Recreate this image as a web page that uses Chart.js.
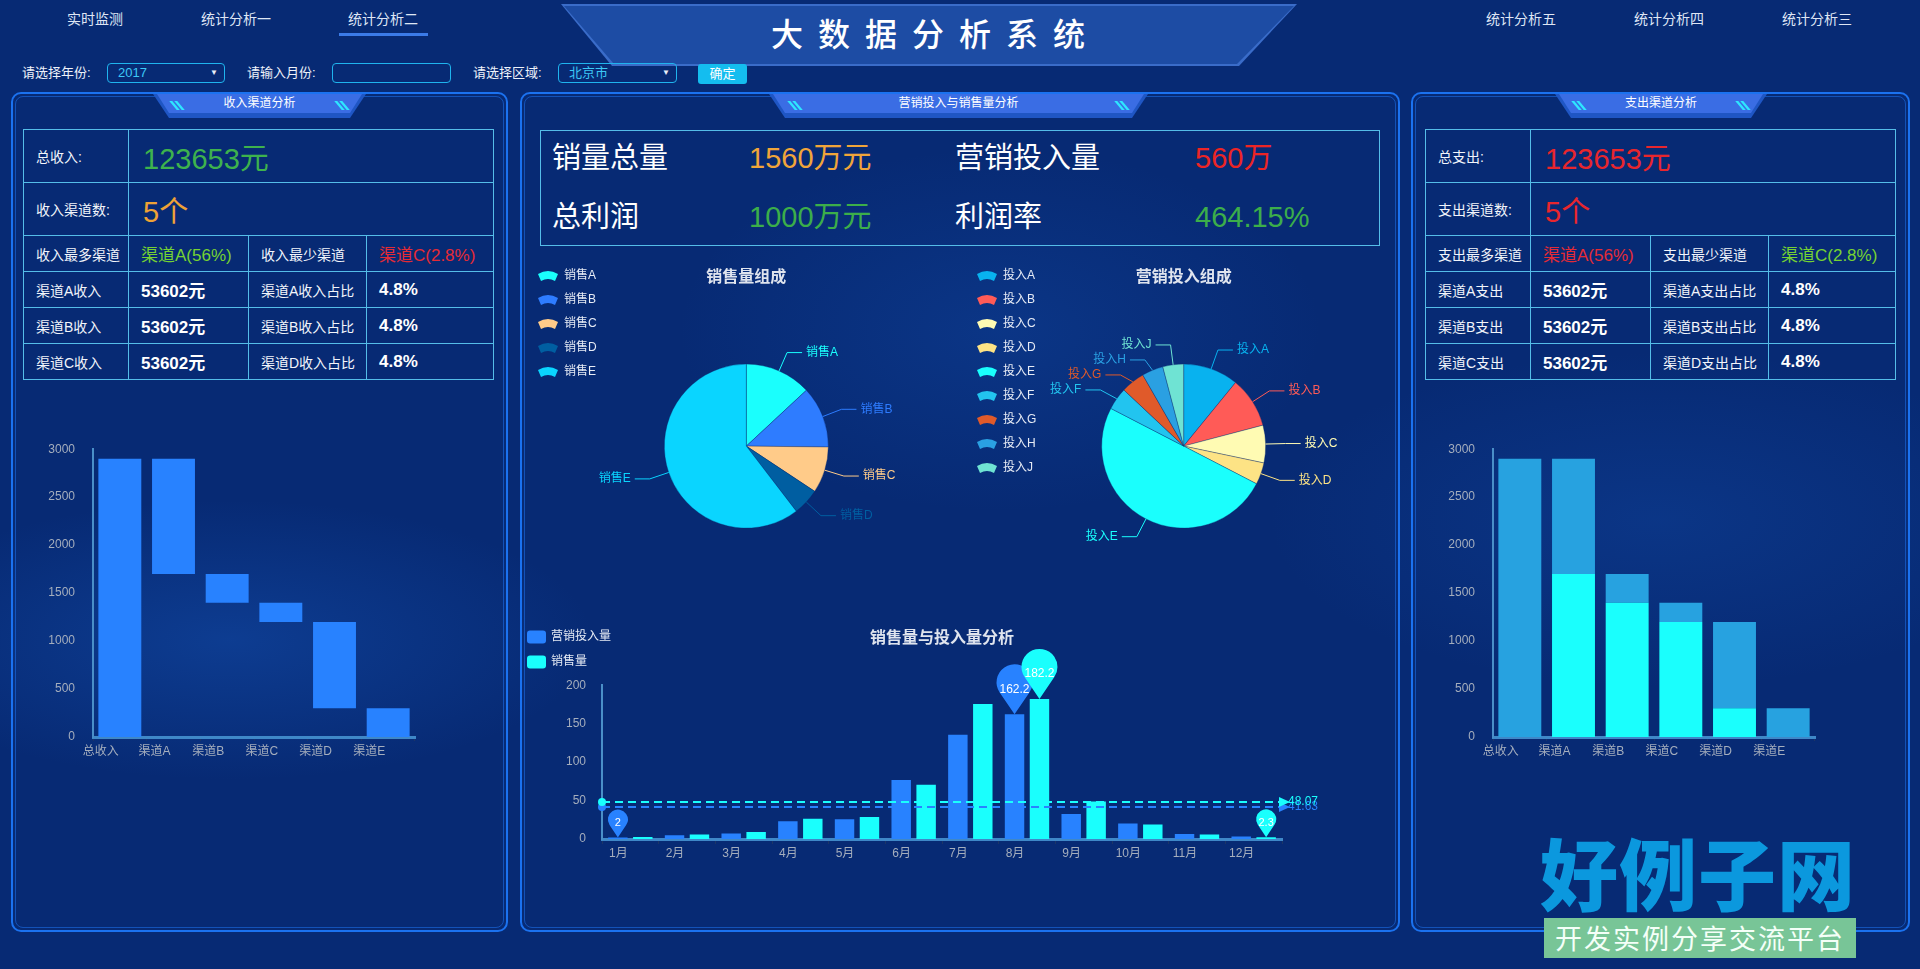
<!DOCTYPE html>
<html lang="zh">
<head>
<meta charset="utf-8">
<title>大数据分析系统</title>
<script src="https://cdn.jsdelivr.net/npm/chart.js@4.4.1/dist/chart.umd.min.js"></script>
<style>
  * { box-sizing: border-box; }
  body {
    margin: 0; width: 1920px; height: 969px; overflow: hidden; position: relative; color: #fff;
    font-family: "Liberation Sans", "Noto Sans CJK SC", sans-serif;
    background:
      radial-gradient(ellipse 520px 200px at 230px 640px, rgba(25,95,200,0.35), transparent 70%),
      radial-gradient(ellipse 560px 240px at 1660px 520px, rgba(25,95,200,0.22), transparent 70%),
      radial-gradient(ellipse 460px 260px at 1000px 330px, rgba(25,95,200,0.22), transparent 70%),
      #072a74;
  }
  .nav { position: absolute; top: 10px; font-size: 14px; line-height: 18px; color: #dfe6f4; transform: translateX(-50%); white-space: nowrap; }
  .nav-line { position: absolute; left: 339px; top: 33px; width: 89px; height: 3px; background: #3b7be8; }

  .banner { position: absolute; left: 561px; top: 4px; width: 736px; height: 62px; background: #3a6cc9;
    clip-path: polygon(0 0, 100% 0, calc(100% - 58px) 100%, 51px 100%); }
  .banner::after { content: ""; position: absolute; inset: 2px 3px; background: #1d4ca4;
    clip-path: polygon(0 0, 100% 0, calc(100% - 57px) 100%, 50px 100%); }
  .title { position: absolute; left: 928px; top: 12px; transform: translateX(-50%); font-size: 32px; line-height: 40px;
    letter-spacing: 15px; text-indent: 15px; font-family: "Noto Sans CJK SC", sans-serif; font-weight: 500; white-space: nowrap; }

  .flabel { position: absolute; top: 63px; font-size: 13px; line-height: 20px; color: #eef2fa; white-space: nowrap; }
  .fbox { position: absolute; top: 63px; height: 20px; border: 1.5px solid #1fb4ee; border-radius: 4px;
    font-size: 13px; line-height: 17px; color: #3cc8f6; padding-left: 10px; }
  .fbox i { position: absolute; right: 6px; top: 0; font-style: normal; font-size: 8px; color: #e8eef8; }
  .fbtn { position: absolute; left: 698px; top: 64px; width: 49px; height: 20px; background: #14bdef; border-radius: 3px;
    font-size: 13px; line-height: 20px; text-align: center; }

  .panel { position: absolute; top: 92px; height: 840px; border: 2px solid #1b72f0; border-radius: 10px; }
  .panel::after { content: ""; position: absolute; inset: 2px; border: 1px solid rgba(30,115,240,0.55); border-radius: 8px; }

  .tab { position: absolute; top: 94px; height: 24px; }
  .tab .base { position: absolute; inset: 0; background: #1f56c4;
    clip-path: polygon(0 0, 100% 0, calc(100% - 16px) 100%, 16px 100%); }
  .tab .face { position: absolute; left: 4px; right: 4px; top: 0; height: 19px; background: #3a6de4;
    clip-path: polygon(0 0, 100% 0, calc(100% - 12px) 100%, 12px 100%); }
  .tab .acc { position: absolute; top: 7px; width: 3px; height: 9px; background: #2ee6ff; transform: skewX(40deg); }
  .tab span { position: absolute; left: 0; right: 0; top: 1px; text-align: center; font-size: 12px; line-height: 16px; }

  table.info { position: absolute; top: 129px; border-collapse: collapse; table-layout: fixed; width: 470px; }
  table.info td { border: 1px solid #55bde8; padding: 0 0 0 12px; font-size: 14px; white-space: nowrap; color: #f2f5fb; }
  table.info tr.big { height: 53px; }
  table.info tr.sm { height: 36px; }
  table.info td.big-num { font-size: 29px; padding-left: 14px; }
  table.info td.mid-num { font-size: 17px; }
  table.info td.bold { font-weight: bold; font-size: 17px; color: #fff; }

  .stats { position: absolute; left: 540px; top: 130px; width: 840px; height: 116px; border: 1px solid #55bde8; }
  .stat { position: absolute; font-size: 29px; line-height: 34px; white-space: nowrap; }

  canvas { position: absolute; }

  .logo { position: absolute; left: 1540px; top: 826px; font-size: 78px; line-height: 90px; font-weight: 900;
    color: #0b98de; letter-spacing: 1px; font-family: "Noto Sans CJK SC", sans-serif; white-space: nowrap; }
  .slogan { position: absolute; left: 1544px; top: 918px; width: 312px; height: 40px; background: #78c597;
    font-size: 27px; line-height: 40px; text-align: center; letter-spacing: 2px; color: #f4fff8;
    font-family: "Noto Sans CJK SC", sans-serif; white-space: nowrap; }
</style>
</head>
<body>

<div class="nav" style="left:95px">实时监测</div>
<div class="nav" style="left:236px">统计分析一</div>
<div class="nav" style="left:383px">统计分析二</div>
<div class="nav-line"></div>
<div class="nav" style="left:1521px">统计分析五</div>
<div class="nav" style="left:1669px">统计分析四</div>
<div class="nav" style="left:1817px">统计分析三</div>

<div class="banner"></div>
<div class="title">大数据分析系统</div>

<div class="flabel" style="left:22px">请选择年份:</div>
<div class="fbox" style="left:107px;width:118px">2017<i>▼</i></div>
<div class="flabel" style="left:247px">请输入月份:</div>
<div class="fbox" style="left:332px;width:119px"></div>
<div class="flabel" style="left:473px">请选择区域:</div>
<div class="fbox" style="left:558px;width:119px">北京市<i>▼</i></div>
<div class="fbtn">确定</div>

<div class="panel" style="left:11px;width:497px"></div>
<div class="panel" style="left:520px;width:880px"></div>
<div class="panel" style="left:1411px;width:499px"></div>

<div class="tab" style="left:153px;width:213px"><div class="base"></div><div class="face"></div>
  <div class="acc" style="left:20px"></div><div class="acc" style="left:25px"></div>
  <div class="acc" style="right:25px"></div><div class="acc" style="right:20px"></div><span>收入渠道分析</span></div>
<div class="tab" style="left:769px;width:379px"><div class="base"></div><div class="face"></div>
  <div class="acc" style="left:22px"></div><div class="acc" style="left:27px"></div>
  <div class="acc" style="right:27px"></div><div class="acc" style="right:22px"></div><span>营销投入与销售量分析</span></div>
<div class="tab" style="left:1555px;width:212px"><div class="base"></div><div class="face"></div>
  <div class="acc" style="left:20px"></div><div class="acc" style="left:25px"></div>
  <div class="acc" style="right:25px"></div><div class="acc" style="right:20px"></div><span>支出渠道分析</span></div>

<table class="info" style="left:23px">
  <colgroup><col style="width:105px"><col style="width:120px"><col style="width:118px"><col style="width:127px"></colgroup>
  <tr class="big"><td>总收入:</td><td colspan="3" class="big-num" style="color:#3eb24d">123653元</td></tr>
  <tr class="big"><td>收入渠道数:</td><td colspan="3" class="big-num" style="color:#eea236">5个</td></tr>
  <tr class="sm"><td>收入最多渠道</td><td class="mid-num" style="color:#76d232">渠道A(56%)</td><td>收入最少渠道</td><td class="mid-num" style="color:#e52b35">渠道C(2.8%)</td></tr>
  <tr class="sm"><td>渠道A收入</td><td class="bold">53602元</td><td>渠道A收入占比</td><td class="bold">4.8%</td></tr>
  <tr class="sm"><td>渠道B收入</td><td class="bold">53602元</td><td>渠道B收入占比</td><td class="bold">4.8%</td></tr>
  <tr class="sm"><td>渠道C收入</td><td class="bold">53602元</td><td>渠道D收入占比</td><td class="bold">4.8%</td></tr>
</table>

<table class="info" style="left:1425px">
  <colgroup><col style="width:105px"><col style="width:120px"><col style="width:118px"><col style="width:127px"></colgroup>
  <tr class="big"><td>总支出:</td><td colspan="3" class="big-num" style="color:#e8262d">123653元</td></tr>
  <tr class="big"><td>支出渠道数:</td><td colspan="3" class="big-num" style="color:#e8262d">5个</td></tr>
  <tr class="sm"><td>支出最多渠道</td><td class="mid-num" style="color:#e52b35">渠道A(56%)</td><td>支出最少渠道</td><td class="mid-num" style="color:#76d232">渠道C(2.8%)</td></tr>
  <tr class="sm"><td>渠道A支出</td><td class="bold">53602元</td><td>渠道A支出占比</td><td class="bold">4.8%</td></tr>
  <tr class="sm"><td>渠道B支出</td><td class="bold">53602元</td><td>渠道B支出占比</td><td class="bold">4.8%</td></tr>
  <tr class="sm"><td>渠道C支出</td><td class="bold">53602元</td><td>渠道D支出占比</td><td class="bold">4.8%</td></tr>
</table>

<div class="stats"></div>
<div class="stat" style="left:552px;top:141px">销量总量</div>
<div class="stat" style="left:749px;top:141px;color:#f0a53a">1560万元</div>
<div class="stat" style="left:955px;top:141px">营销投入量</div>
<div class="stat" style="left:1195px;top:141px;color:#ec2525">560万</div>
<div class="stat" style="left:552px;top:200px">总利润</div>
<div class="stat" style="left:749px;top:200px;color:#3cae4a">1000万元</div>
<div class="stat" style="left:955px;top:200px">利润率</div>
<div class="stat" style="left:1195px;top:200px;color:#3cae4a">464.15%</div>

<canvas id="flowLeft" width="470" height="338" style="left:20px;top:432px"></canvas>
<canvas id="salePie" width="440" height="337" style="left:526px;top:258px"></canvas>
<canvas id="investPie" width="435" height="337" style="left:965px;top:258px"></canvas>
<canvas id="monthBar" width="800" height="260" style="left:522px;top:615px"></canvas>
<canvas id="flowRight" width="470" height="338" style="left:1420px;top:432px"></canvas>

<div class="logo">好例子网</div>
<div class="slogan">开发实例分享交流平台</div>

<script>
// ---- data ----
const flowLabels = ["总收入", "渠道A", "渠道B", "渠道C", "渠道D", "渠道E"];
const flowBase = [0, 1700, 1400, 1200, 300, 0];
const flowAmount = [2900, 1200, 300, 200, 900, 300];
const flowMax = 3000;
const flowStep = 500;

const saleNames = ["销售A", "销售B", "销售C", "销售D", "销售E"];
const saleValues = [335, 310, 234, 135, 1548];
const saleColors = ["#1afffd", "#2e7cff", "#ffcb89", "#005ea1", "#0ad5ff"];

const investNames = ["投入A", "投入B", "投入C", "投入D", "投入E", "投入F", "投入G", "投入H", "投入J"];
const investValues = [10.9, 10.0, 7.4, 4.3, 50.0, 4.4, 4.7, 4.2, 4.1];
const investColors = ["#08b2ef", "#ff5b57", "#fffbb3", "#fde385", "#1afffd", "#22c4ef", "#e05a2a", "#2aa0e2", "#6fe3d3"];

const months = ["1月", "2月", "3月", "4月", "5月", "6月", "7月", "8月", "9月", "10月", "11月", "12月"];
const monthInvest = [2.0, 4.9, 7.0, 23.2, 25.6, 76.7, 135.6, 162.2, 32.6, 20.0, 6.4, 3.3];
const monthSales = [2.6, 5.9, 9.0, 26.4, 28.7, 70.7, 175.6, 182.2, 48.7, 18.8, 6.0, 2.3];
const monthMax = 200;
const monthStep = 50;

const FONT = '"Liberation Sans", "Noto Sans CJK SC", sans-serif';
Chart.defaults.font.family = FONT;
Chart.defaults.font.size = 12;
Chart.defaults.color = "#a5aebd";

const TICK = "#a5aebd";
const AXIS = "#3f88c8";

// legend icon: small fan shape
function fanIcon(color) {
    const c = document.createElement("canvas");
    c.width = 22;
    c.height = 12;
    const g = c.getContext("2d");
    g.fillStyle = color;
    g.beginPath();
    g.moveTo(1, 4);
    g.quadraticCurveTo(11, -2, 21, 4);
    g.lineTo(18, 11);
    g.quadraticCurveTo(11, 7, 4, 11);
    g.closePath();
    g.fill();
    return c;
}

// labels outside the slices with leader lines
const outLabels = {
    id: "outLabels",
    afterDatasetsDraw(chart) {
        const ctx = chart.ctx;
        const ds = chart.data.datasets[0];
        const items = chart.getDatasetMeta(0).data.map((arc, i) => {
            const p = arc.getProps(["x", "y", "startAngle", "endAngle", "outerRadius"], true);
            const mid = (p.startAngle + p.endAngle) / 2;
            const r = p.outerRadius;
            return {
                i,
                ex: p.x + Math.cos(mid) * r,
                ey: p.y + Math.sin(mid) * r,
                bx: p.x + Math.cos(mid) * (r + 20),
                by: p.y + Math.sin(mid) * (r + 20),
                right: Math.cos(mid) >= 0
            };
        });
        items.forEach(o => o.ly = o.by);
        [true, false].forEach(side => {
            const s = items.filter(o => o.right === side).sort((a, b) => a.by - b.by);
            for (let k = 1; k < s.length; k++) {
                if (s[k].ly < s[k - 1].ly + 15) s[k].ly = s[k - 1].ly + 15;
            }
        });
        ctx.save();
        ctx.font = "12px " + FONT;
        ctx.textBaseline = "middle";
        ctx.lineWidth = 1;
        items.forEach(o => {
            const color = ds.backgroundColor[o.i];
            const x2 = o.right ? o.bx + 15 : o.bx - 15;
            ctx.strokeStyle = color;
            ctx.beginPath();
            ctx.moveTo(o.ex, o.ey);
            ctx.lineTo(o.bx, o.ly);
            ctx.lineTo(x2, o.ly);
            ctx.stroke();
            ctx.fillStyle = color;
            ctx.textAlign = o.right ? "left" : "right";
            ctx.fillText(chart.data.labels[o.i], x2 + (o.right ? 4 : -4), o.ly);
        });
        ctx.restore();
    }
};

function drawPin(ctx, x, tipY, w, h, color, text) {
    const r = w / 2;
    const cy = tipY - h + r;
    const phi = Math.acos(r / (tipY - cy));
    ctx.save();
    ctx.fillStyle = color;
    ctx.beginPath();
    ctx.arc(x, cy, r, Math.PI / 2 + phi, Math.PI * 2.5 - phi);
    ctx.lineTo(x, tipY);
    ctx.closePath();
    ctx.fill();
    ctx.fillStyle = "#fff";
    ctx.font = (w > 30 ? 12 : 11) + "px " + FONT;
    ctx.textAlign = "center";
    ctx.textBaseline = "middle";
    ctx.fillText(text, x, tipY - h / 2);
    ctx.restore();
}

// max / min pins and average lines
const markPlugin = {
    id: "marks",
    afterDatasetsDraw(chart) {
        const { ctx, chartArea, scales } = chart;
        chart.data.datasets.forEach((ds, di) => {
            const meta = chart.getDatasetMeta(di);
            const vals = ds.data;
            const color = ds.backgroundColor;
            const avg = vals.reduce((a, b) => a + b, 0) / vals.length;
            const ay = scales.y.getPixelForValue(avg);

            ctx.save();
            ctx.strokeStyle = color;
            ctx.fillStyle = color;
            ctx.lineWidth = 2;
            ctx.setLineDash([8, 5]);
            ctx.beginPath();
            ctx.moveTo(chartArea.left, ay);
            ctx.lineTo(chartArea.right, ay);
            ctx.stroke();
            ctx.setLineDash([]);
            ctx.beginPath();
            ctx.arc(chartArea.left, ay, 4, 0, Math.PI * 2);
            ctx.fill();
            ctx.beginPath();
            ctx.moveTo(chartArea.right + 8, ay);
            ctx.lineTo(chartArea.right - 3, ay - 5);
            ctx.lineTo(chartArea.right - 3, ay + 5);
            ctx.closePath();
            ctx.fill();
            ctx.font = "12px " + FONT;
            ctx.textBaseline = "middle";
            ctx.fillText(avg.toFixed(2), chartArea.right + 6, ay);
            ctx.restore();

            const maxI = vals.indexOf(Math.max(...vals));
            const minI = vals.indexOf(Math.min(...vals));
            const bMax = meta.data[maxI], bMin = meta.data[minI];
            drawPin(ctx, bMax.x, bMax.y, 36, 50, color, String(vals[maxI]));
            drawPin(ctx, bMin.x, bMin.y, 20, 28, color, String(vals[minI]));
        });
    }
};

// vertical legend at top-left of the monthly chart
const sideLegend = {
    id: "sideLegend",
    afterDraw(chart, args, opts) {
        const ctx = chart.ctx;
        ctx.save();
        ctx.font = "12px " + FONT;
        ctx.textBaseline = "middle";
        chart.data.datasets.forEach((ds, i) => {
            const y = opts.top + i * opts.gap;
            ctx.fillStyle = ds.backgroundColor;
            ctx.beginPath();
            ctx.roundRect(opts.left, y - 6.5, 19, 13, 3);
            ctx.fill();
            ctx.fillStyle = "#e6ebf5";
            ctx.fillText(ds.label, opts.left + 24, y);
        });
        ctx.restore();
    }
};

function flowChart(id, baseColor, amountColor) {
    new Chart(document.getElementById(id), {
        type: "bar",
        data: {
            labels: flowLabels,
            datasets: [
                { label: "辅助", data: flowBase, backgroundColor: baseColor },
                { label: "金额", data: flowAmount, backgroundColor: amountColor }
            ]
        },
        options: {
            responsive: false,
            animation: false,
            events: [],
            categoryPercentage: 1,
            barPercentage: 0.8,
            layout: { padding: { top: 2, right: 75, left: 0, bottom: 0 } },
            plugins: { legend: { display: false }, tooltip: { enabled: false } },
            scales: {
                x: {
                    stacked: true,
                    afterFit: s => { s.height = 33; },
                    grid: { display: true, drawOnChartArea: false, tickLength: 4, color: "#1c3566" },
                    border: { display: true, color: AXIS, width: 3 },
                    ticks: { color: TICK, padding: 3, labelOffset: -19 }
                },
                y: {
                    stacked: true,
                    min: 0,
                    max: flowMax,
                    afterFit: s => { s.width = 73; },
                    grid: { display: false },
                    border: { display: true, color: "#4a8fc8", width: 2 },
                    ticks: { stepSize: flowStep, color: TICK, padding: 10, callback: v => String(v) }
                }
            }
        }
    });
}

flowChart("flowLeft", "rgba(0,0,0,0)", "#2882ff");
flowChart("flowRight", "#1afffd", "#27a2e0");

function pieChart(id, names, values, colors, title, padRight) {
    const icons = colors.map(fanIcon);
    new Chart(document.getElementById(id), {
        type: "pie",
        data: {
            labels: names,
            datasets: [{
                data: values,
                backgroundColor: colors,
                borderWidth: 1,
                borderColor: "rgba(10,40,110,0.35)"
            }]
        },
        options: {
            responsive: false,
            animation: false,
            events: [],
            radius: 82,
            layout: { padding: { right: padRight, top: 0, bottom: 0, left: 0 } },
            plugins: {
                tooltip: { enabled: false },
                title: {
                    display: true,
                    text: title,
                    fullSize: false,
                    color: "#dfe4ee",
                    font: { size: 16, weight: "bold" },
                    padding: { top: 10, bottom: 10 }
                },
                legend: {
                    position: "left",
                    align: "start",
                    labels: {
                        usePointStyle: true,
                        pointStyleWidth: 20,
                        padding: 12,
                        color: "#e6ebf5",
                        font: { size: 12 },
                        generateLabels(chart) {
                            const items = Chart.overrides.doughnut.plugins.legend.labels.generateLabels(chart);
                            items.forEach((it, i) => { it.pointStyle = icons[i]; });
                            return items;
                        }
                    }
                }
            }
        },
        plugins: [outLabels]
    });
}

pieChart("salePie", saleNames, saleValues, saleColors, "销售量组成", 80);
pieChart("investPie", investNames, investValues, investColors, "营销投入组成", 79);

new Chart(document.getElementById("monthBar"), {
    type: "bar",
    data: {
        labels: months,
        datasets: [
            { label: "营销投入量", data: monthInvest, backgroundColor: "#2882ff" },
            { label: "销售量", data: monthSales, backgroundColor: "#1afffd" }
        ]
    },
    options: {
        responsive: false,
        animation: false,
        events: [],
        categoryPercentage: 0.88,
        barPercentage: 0.78,
        layout: { padding: { top: 0, right: 40, left: 0, bottom: 0 } },
        plugins: {
            legend: { display: false },
            tooltip: { enabled: false },
            sideLegend: { left: 5, top: 22, gap: 25 },
            title: {
                display: true,
                text: "销售量与投入量分析",
                fullSize: false,
                color: "#dfe4ee",
                font: { size: 16, weight: "bold" },
                padding: { top: 14, bottom: 37 }
            }
        },
        scales: {
            x: {
                afterFit: s => { s.height = 36; },
                grid: { display: true, drawOnChartArea: false, tickLength: 5, color: "#1c3566" },
                border: { display: true, color: AXIS, width: 3 },
                ticks: { color: TICK, padding: 2, labelOffset: -12 }
            },
            y: {
                min: 0,
                max: monthMax,
                afterFit: s => { s.width = 80; },
                grid: { display: false },
                border: { display: true, color: "#4a8fc8", width: 2 },
                ticks: { stepSize: monthStep, color: TICK, padding: 8 }
            }
        }
    },
    plugins: [markPlugin, sideLegend]
});
</script>
</body>
</html>
